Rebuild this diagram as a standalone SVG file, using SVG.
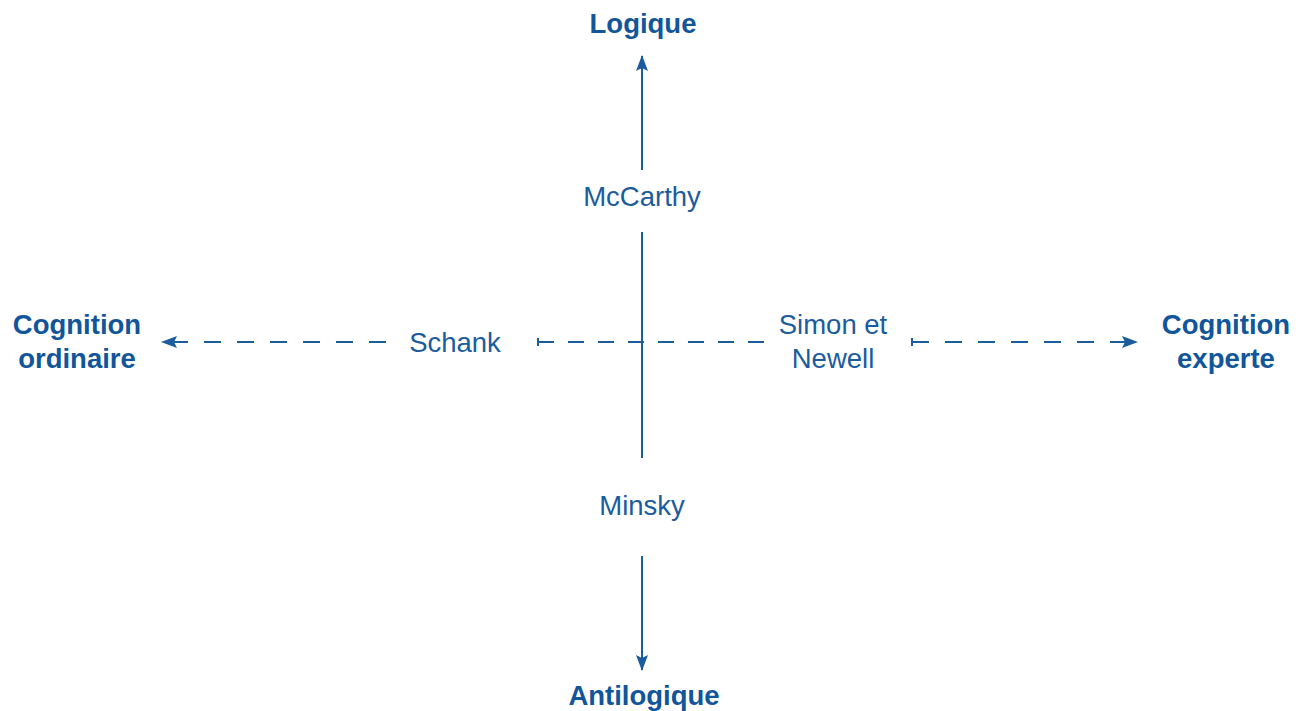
<svg xmlns="http://www.w3.org/2000/svg" width="1303" height="711" viewBox="0 0 1303 711">
<style>
text{font-family:"Liberation Sans",Arial,sans-serif;font-size:27.5px;fill:#1b5c9e;text-anchor:middle}
.b{font-weight:bold;fill:#11559a}
.ln{stroke:#1b5c9e;stroke-width:2;fill:none}
.d{stroke-dasharray:16 14}
.d2{stroke-dasharray:17 16}
</style>
<defs>
<marker id="ah" viewBox="0 0 16 12" refX="15" refY="6" markerWidth="16" markerHeight="12" markerUnits="userSpaceOnUse" orient="auto">
<path d="M0,0 L16,6 L0,12 L3,6 Z" fill="#1b5c9e"/>
</marker>
</defs>
<g id="connectors">
<line class="ln" x1="642" y1="170" x2="642" y2="56" marker-end="url(#ah)"/>
<line class="ln" x1="642" y1="232" x2="642" y2="458"/>
<line class="ln" x1="642" y1="556" x2="642" y2="670" marker-end="url(#ah)"/>
<line class="ln d2" x1="386" y1="342" x2="162" y2="342" marker-end="url(#ah)"/>
<line class="ln d" x1="538" y1="342" x2="764" y2="342"/>
<line class="ln" x1="538" y1="338" x2="538" y2="346"/>
<line class="ln d2" x1="912" y1="342" x2="1137" y2="342" marker-end="url(#ah)"/>
<line class="ln" x1="912" y1="338" x2="912" y2="346"/>
</g>
<g id="logique"><text class="b" x="643" y="33">Logique</text></g>
<g id="antilogique"><text class="b" x="644" y="705">Antilogique</text></g>
<g id="cognition-ordinaire"><text class="b" x="77" y="334">Cognition</text><text class="b" x="77" y="368">ordinaire</text></g>
<g id="cognition-experte"><text class="b" x="1226" y="334">Cognition</text><text class="b" x="1226" y="368">experte</text></g>
<g id="mccarthy"><text x="642" y="206">McCarthy</text></g>
<g id="minsky"><text x="642" y="515">Minsky</text></g>
<g id="schank"><text x="455" y="352">Schank</text></g>
<g id="simon-newell"><text x="833" y="334">Simon et</text><text x="833" y="368">Newell</text></g>
</svg>
